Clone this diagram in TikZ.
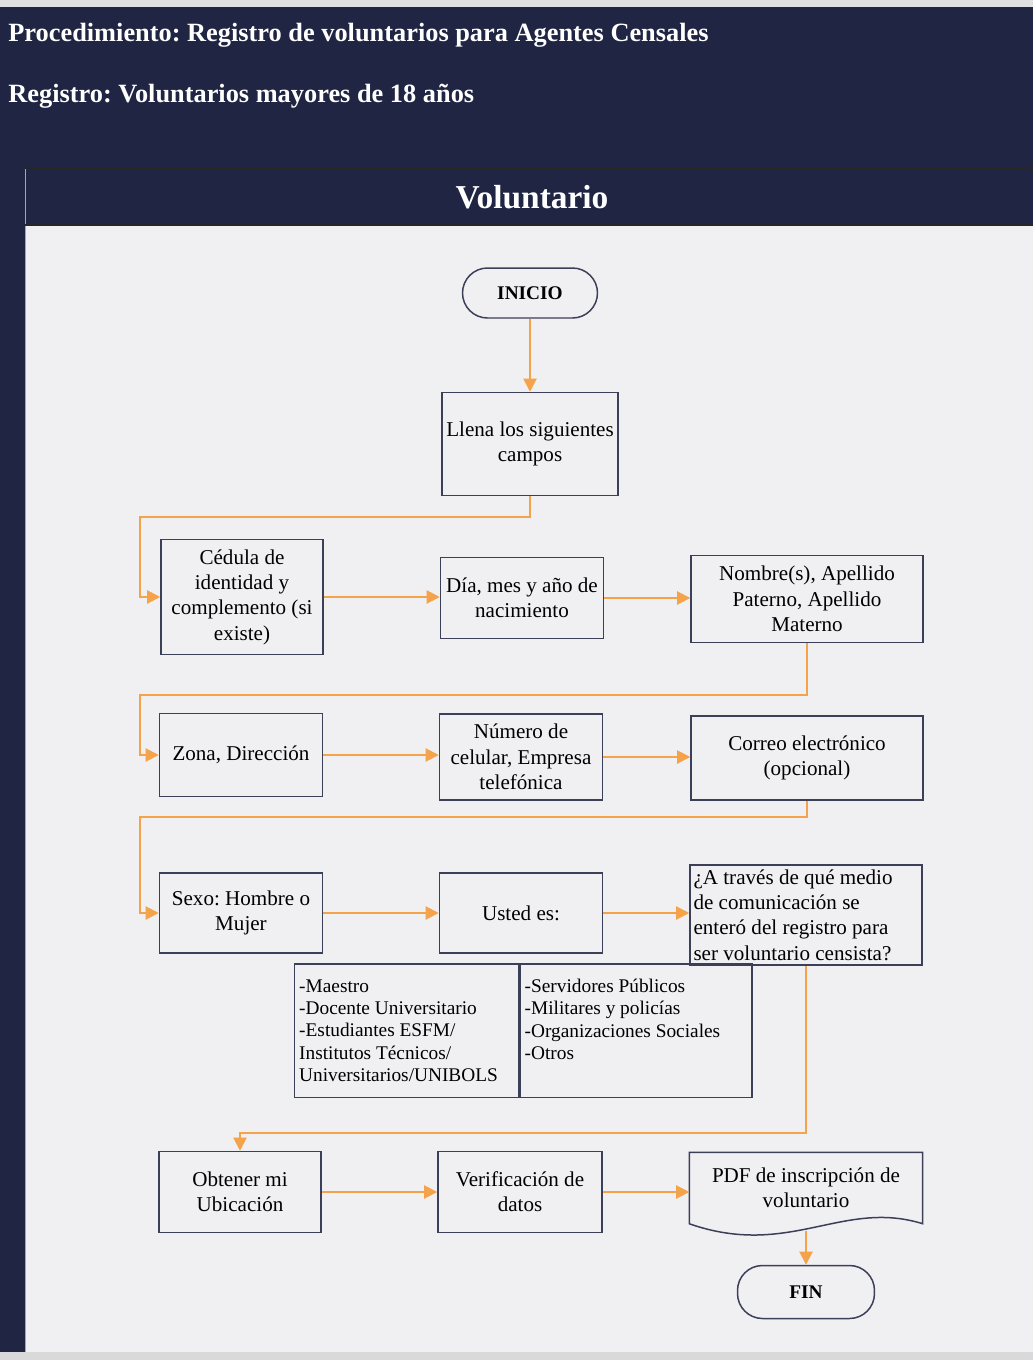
\documentclass[tikz,border=0pt]{standalone}
\usepackage{fontspec}
\setmainfont{Liberation Serif}
\frenchspacing
\usetikzlibrary{arrows.meta}
\definecolor{vhead}{HTML}{1F2542}
\definecolor{vpage}{HTML}{F0F0F3}
\definecolor{vflow}{HTML}{F5A34A}
\definecolor{vline}{HTML}{3B3F58}

\begin{document}
\begin{tikzpicture}[x=0.02cm,y=-0.02cm,
  box/.style={draw=vline,line width=0.85pt,align=center,font=\fontsize{12}{14.4}\selectfont,inner sep=2pt},
  term/.style={box,rounded corners=0.5cm,font=\fontsize{11}{13}\selectfont\bfseries},
  cell/.style={draw=vline,line width=0.85pt,align=flush left,font=\fontsize{11}{12.8}\selectfont,inner xsep=2.5pt,anchor=north west,minimum height=2.68cm},
  htext/.style={text=white,font=\fontsize{15}{18}\selectfont\bfseries,anchor=west,inner sep=0pt},
  flow/.style={vflow,line width=1.1pt,-{Triangle[length=7.5pt,width=7.5pt]}}]
  \useasboundingbox (0,0) rectangle (1033,1360);
  \fill[vpage] (0,0) rectangle (1033,1360);
  \fill[black!12] (0,0) rectangle (1033,7);
  \fill[vhead] (0,7) rectangle (1033,225);
  \fill[vhead] (0,168) rectangle (25,1352);
  \fill[black!15] (0,1352) rectangle (1033,1360);
  \draw[gray!70] (25,168) -- (25,1352);
  \foreach \y in {168,225}{\draw[black!85,line width=1.2pt] (25,\y) -- (1033,\y);}
  \node[htext] (proc) at (8,35) {Procedimiento: Registro de voluntarios para Agentes Censales};
  \node[htext] (reg) at (8,96) {Registro: Voluntarios mayores de 18 años};
  \node[text=white,font=\fontsize{19}{22}\selectfont\bfseries] (lane) at (532,197) {Voluntario};

  \node[term,minimum width=2.7cm,minimum height=1cm] (inicio) at (530,293) {INICIO};
  \node[box,minimum width=3.52cm,minimum height=2.06cm] (llena) at (530,444) {Llena los siguientes\\campos};
  \node[box,minimum width=3.24cm,minimum height=2.3cm] (ced) at (242,597) {Cédula de\\identidad y\\complemento (si\\existe)};
  \node[box,minimum width=3.26cm,minimum height=1.62cm] (dia) at (522,598) {Día, mes y año de\\nacimiento};
  \node[box,minimum width=4.64cm,minimum height=1.74cm] (nom) at (807,599) {Nombre(s), Apellido\\Paterno, Apellido\\Materno};
  \node[box,minimum width=3.26cm,minimum height=1.66cm] (zona) at (241,755) {Zona, Dirección};
  \node[box,minimum width=3.26cm,minimum height=1.72cm] (cel) at (521,757) {Número de\\celular, Empresa\\telefónica};
  \node[box,minimum width=4.64cm,minimum height=1.68cm] (correo) at (807,758) {Correo electrónico\\(opcional)};
  \node[box,minimum width=3.26cm,minimum height=1.6cm] (sexo) at (241,913) {Sexo: Hombre o\\Mujer};
  \node[box,minimum width=3.26cm,minimum height=1.6cm] (usted) at (521,913) {Usted es:};
  \node[box,align=flush left,text width=4.5cm,minimum width=4.64cm,minimum height=2cm] (medio) at (806,915) {¿A través de qué medio\\de comunicación se\\enteró del registro para\\ser voluntario censista?};
  \node[cell,minimum width=4.48cm,text width=4.3cm] (ocupA) at (294,963) {-Maestro\\-Docente Universitario\\-Estudiantes ESFM/\\Institutos Técnicos/\\Universitarios/UNIBOLS};
  \node[cell,minimum width=4.64cm,text width=4.46cm] (ocupB) at (ocupA.north east) {-Servidores Públicos\\-Militares y policías\\-Organizaciones Sociales\\-Otros\\\mbox{}};
  \node[box,minimum width=3.24cm,minimum height=1.62cm] (ubic) at (240,1192) {Obtener mi\\Ubicación};
  \node[box,minimum width=3.28cm,minimum height=1.62cm] (verif) at (520,1192) {Verificación de\\datos};
  \node[box,draw=none,minimum width=4.64cm,minimum height=1.4cm] (pdf) at (806,1188) {PDF de inscripción de\\voluntario};
  \draw[vline,line width=0.85pt] (pdf.south west) .. controls +(100,35) and +(-80,-25) .. (pdf.south east) -- (pdf.north east) -- (pdf.north west) -- cycle;
  \node[term,minimum width=2.74cm,minimum height=1.06cm] (fin) at (806,1292) {FIN};

  \coordinate (bend1) at (140,517);
  \coordinate (bend2) at (140,695);
  \coordinate (bend3) at (140,817);
  \coordinate (bend4) at (240,1133);
  \coordinate (pdfout) at (806,1231);
  \draw[flow] (inicio) -- (llena);
  \foreach \a/\b/\c in {llena/ced/bend1,nom/zona/bend2,correo/sexo/bend3}
    \draw[flow] (\a.south) |- (\c) |- (\b.west);
  \foreach \a/\b in {ced/dia,dia/nom,zona/cel,cel/correo,sexo/usted,usted/medio,ubic/verif,verif/pdf}
    \draw[flow] (\a.east) -- (\a.east -| \b.west);
  \draw[flow] (medio.south) |- (bend4) -- (ubic.north);
  \draw[flow] (pdfout) -- (fin);
\end{tikzpicture}
\end{document}
